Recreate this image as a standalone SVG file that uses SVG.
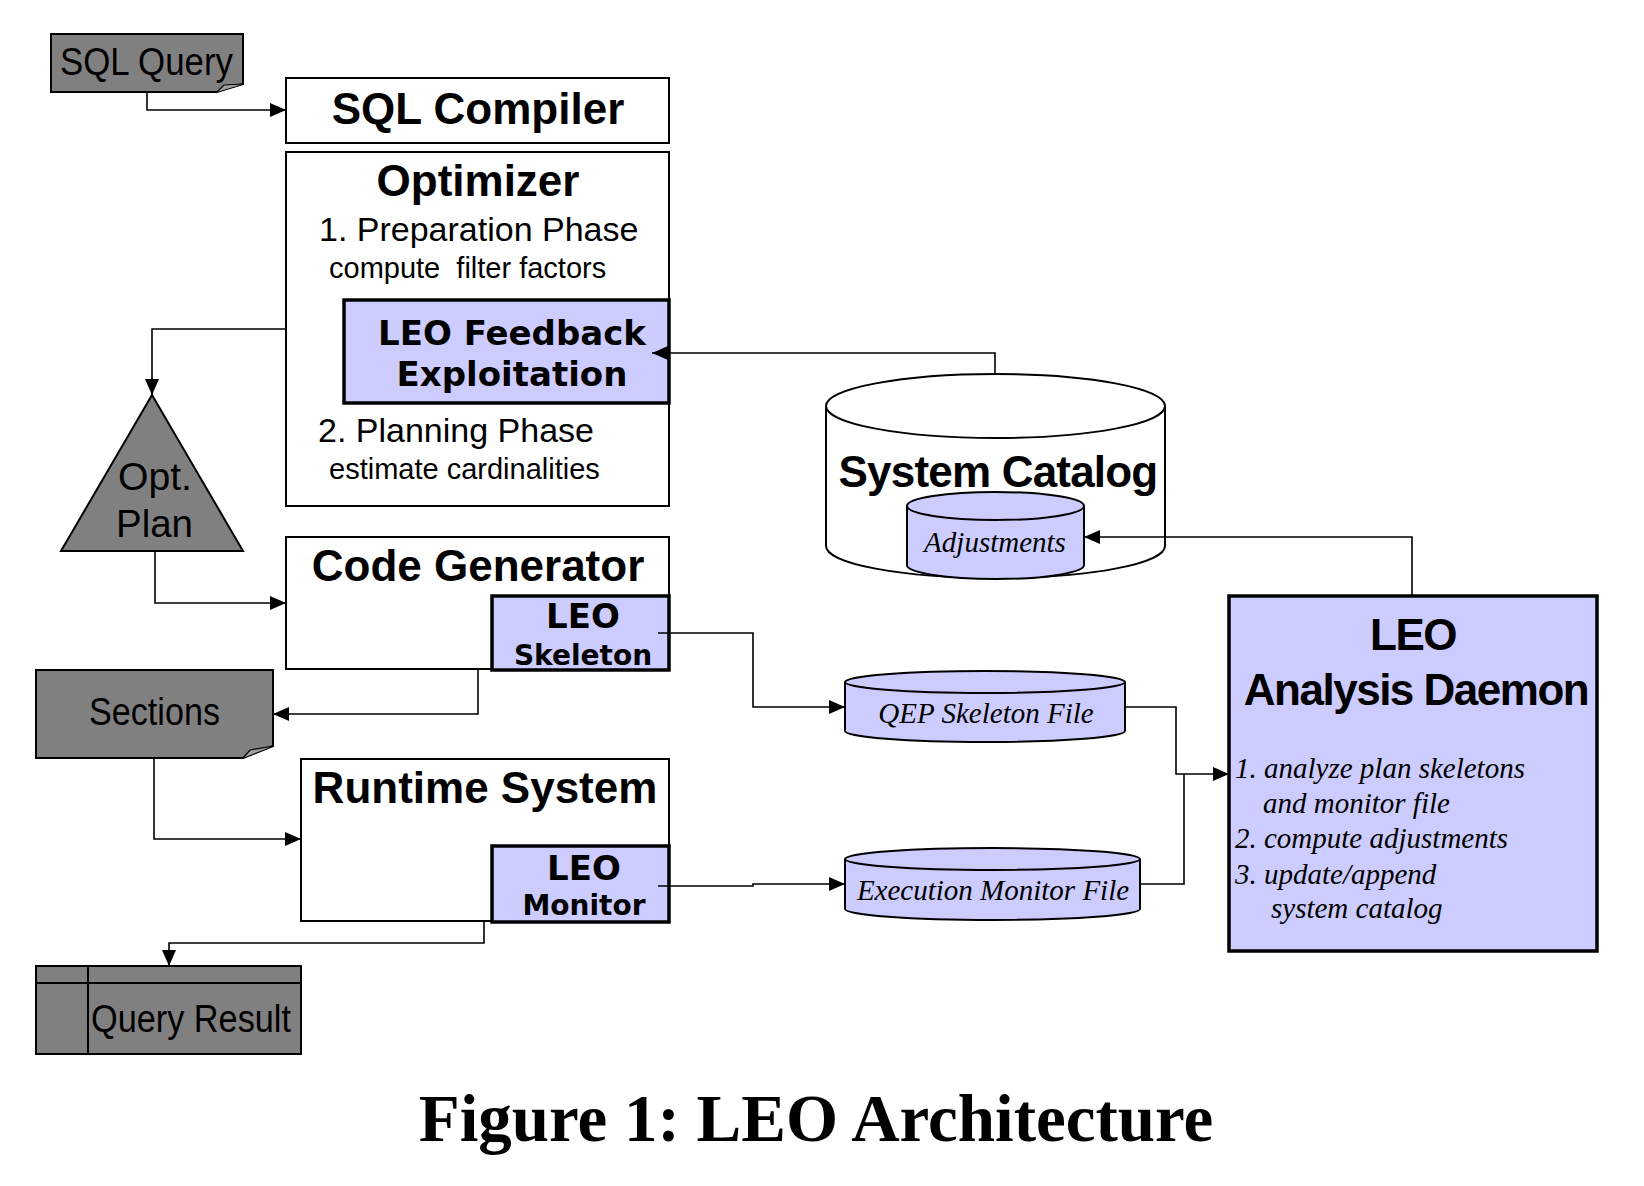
<svg xmlns="http://www.w3.org/2000/svg" width="1644" height="1186" viewBox="0 0 1644 1186">
<defs>
<style>
.box{fill:#fff;stroke:#000;stroke-width:2}
.leo{fill:#ccccff;stroke:#000;stroke-width:3.5}
.grey{fill:#808080;stroke:#000;stroke-width:2}
.cyl{fill:#ccccff;stroke:#000;stroke-width:2}
.conn{fill:none;stroke:#000;stroke-width:1.6}
.h{font-family:"Liberation Sans",Arial,sans-serif;font-weight:bold;font-size:44px;text-anchor:middle}
.r{font-family:"Liberation Sans",Arial,sans-serif;font-size:34px}
.g{font-family:"Liberation Sans",Arial,sans-serif;font-size:38px}
.s{font-family:"Liberation Sans",Arial,sans-serif;font-size:29px}
.blk{font-family:"DejaVu Sans",sans-serif;font-weight:bold;text-anchor:middle}
.it{font-family:"Liberation Serif","Times New Roman",serif;font-style:italic;font-size:29px}
</style>
<marker id="ah" viewBox="0 0 16 14" refX="16" refY="7" markerWidth="16" markerHeight="14" markerUnits="userSpaceOnUse" orient="auto">
<path d="M0,0 L16,7 L0,14 Z" fill="#000"/>
</marker>
</defs>
<rect width="1644" height="1186" fill="#fff"/>

<g id="sql-query">
<path class="grey" d="M51,34 H243 V84 L217,92 H51 Z"/>
<path d="M217,92 L224,85 L243,84" fill="#a0a0a0" stroke="#000" stroke-width="1.2"/>
<text class="g" x="60" y="75" textLength="173" lengthAdjust="spacingAndGlyphs">SQL Query</text>
</g>

<g id="sql-compiler">
<rect class="box" x="286" y="78" width="383" height="65"/>
<text class="h" x="478" y="124">SQL Compiler</text>
</g>

<g id="optimizer">
<rect class="box" x="286" y="152" width="383" height="354"/>
<text class="h" x="478" y="196">Optimizer</text>
<text class="r" x="319" y="241">1. Preparation Phase</text>
<text class="s" x="329" y="278" xml:space="preserve">compute  filter factors</text>
<text class="r" x="318" y="442">2. Planning Phase</text>
<text class="s" x="329" y="479">estimate cardinalities</text>
</g>

<g id="leo-feedback">
<rect class="leo" x="344" y="300" width="325" height="103"/>
<text class="blk" x="512" y="345" font-size="34">LEO Feedback</text>
<text class="blk" x="512" y="386" font-size="34">Exploitation</text>
</g>

<g id="opt-plan">
<path class="grey" d="M152,395 L243,551 H61 Z" stroke-width="2.5"/>
<text class="g" x="118" y="490" font-size="42" textLength="74" lengthAdjust="spacingAndGlyphs">Opt.</text>
<text class="g" x="116" y="537" font-size="42" textLength="77" lengthAdjust="spacingAndGlyphs">Plan</text>
</g>

<g id="code-generator">
<rect class="box" x="286" y="537" width="383" height="132"/>
<text class="h" x="478" y="581">Code Generator</text>
</g>

<g id="leo-skeleton">
<rect class="leo" x="492" y="596" width="177" height="74"/>
<text class="blk" x="583" y="628" font-size="34">LEO</text>
<text class="blk" x="583" y="665" font-size="28">Skeleton</text>
</g>

<g id="sections">
<path class="grey" d="M36,670 H273 V746 L243,758 H36 Z"/>
<path d="M243,758 L250,750 L273,746" fill="#a0a0a0" stroke="#000" stroke-width="1.2"/>
<text class="g" x="89" y="725" textLength="131" lengthAdjust="spacingAndGlyphs">Sections</text>
</g>

<g id="runtime-system">
<rect class="box" x="301" y="759" width="368" height="162"/>
<text class="h" x="485" y="803">Runtime System</text>
</g>

<g id="leo-monitor">
<rect class="leo" x="492" y="846" width="177" height="76"/>
<text class="blk" x="584" y="880" font-size="34">LEO</text>
<text class="blk" x="584" y="915" font-size="28">Monitor</text>
</g>

<g id="query-result">
<rect class="grey" x="36" y="966" width="265" height="88"/>
<path d="M36,983 H301 M88,966 V1054" stroke="#000" stroke-width="2" fill="none"/>
<text class="g" x="91" y="1032" textLength="200" lengthAdjust="spacingAndGlyphs">Query Result</text>
</g>

<g id="system-catalog">
<path d="M826,406 V546 A169.5,32 0 0 0 1165,546 V406" fill="#fff" stroke="#000" stroke-width="2"/>
<ellipse cx="995.5" cy="406" rx="169.5" ry="32" fill="#fff" stroke="#000" stroke-width="2"/>
<text class="h" x="998" y="487" font-size="42" letter-spacing="-0.8">System Catalog</text>
</g>

<g id="adjustments">
<path class="cyl" d="M907,506 V565 A88.5,14 0 0 0 1084,565 V506"/>
<ellipse class="cyl" cx="995.5" cy="506" rx="88.5" ry="14"/>
<text class="it" x="995" y="552" text-anchor="middle">Adjustments</text>
</g>

<g id="qep-skeleton-file">
<path class="cyl" d="M845,682 V731 A140,11 0 0 0 1125,731 V682"/>
<ellipse class="cyl" cx="985" cy="682" rx="140" ry="11"/>
<text class="it" x="986" y="723" text-anchor="middle">QEP Skeleton File</text>
</g>

<g id="execution-monitor-file">
<path class="cyl" d="M845,859 V909 A147.5,11 0 0 0 1140,909 V859"/>
<ellipse class="cyl" cx="992.5" cy="859" rx="147.5" ry="11"/>
<text class="it" x="993" y="900" text-anchor="middle" font-size="28">Execution Monitor File</text>
</g>

<g id="leo-analysis-daemon">
<rect class="leo" x="1229" y="596" width="368" height="355"/>
<text class="h" x="1413" y="650" letter-spacing="-1.5">LEO</text>
<text class="h" x="1416" y="705" letter-spacing="-1.5">Analysis Daemon</text>
<text class="it" x="1235" y="778">1. analyze plan skeletons</text>
<text class="it" x="1263" y="813">and monitor file</text>
<text class="it" x="1235" y="848">2. compute adjustments</text>
<text class="it" x="1235" y="884">3. update/append</text>
<text class="it" x="1271" y="918">system catalog</text>
</g>

<g id="connectors">
<path class="conn" d="M147,92 V110 H286" marker-end="url(#ah)"/>
<path class="conn" d="M286,329 H152 V395" marker-end="url(#ah)"/>
<path class="conn" d="M155,551 V603 H286" marker-end="url(#ah)"/>
<path class="conn" d="M478,669 V714 H273" marker-end="url(#ah)"/>
<path class="conn" d="M154,758 V839 H301" marker-end="url(#ah)"/>
<path class="conn" d="M484,921 V943 H169 V966" marker-end="url(#ah)"/>
<path class="conn" d="M995,373 V353 H652" marker-end="url(#ah)"/>
<path class="conn" d="M1412,596 V537 H1084" marker-end="url(#ah)"/>
<path class="conn" d="M658,633 H753 V707 H845" marker-end="url(#ah)"/>
<path class="conn" d="M658,886 H753 V884 H845" marker-end="url(#ah)"/>
<path class="conn" d="M1125,707 H1176 V774 H1229" marker-end="url(#ah)"/>
<path class="conn" d="M1140,884 H1184 V774"/>
</g>

<text x="816" y="1141" text-anchor="middle" font-family="Liberation Serif,'Times New Roman',serif" font-weight="bold" font-size="67">Figure 1: LEO Architecture</text>
</svg>
